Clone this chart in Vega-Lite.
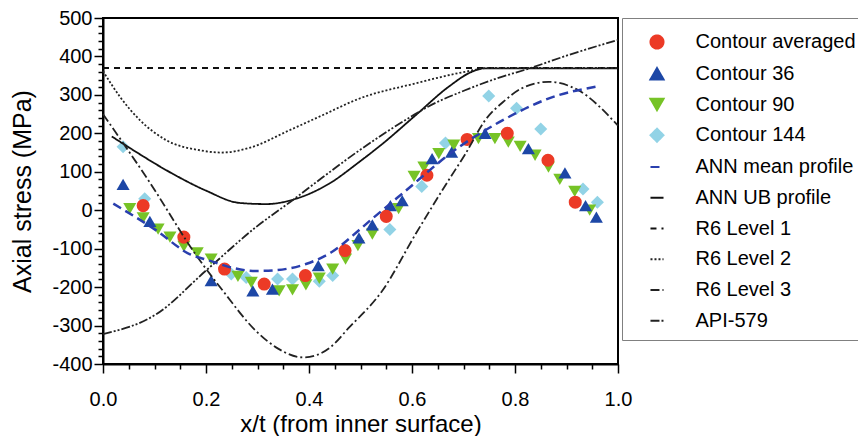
{
  "$schema": "https://vega.github.io/schema/vega-lite/v6.json",
  "width": 515,
  "height": 346,
  "autosize": {"type": "none"},
  "padding": {"left": 103, "top": 18, "right": 240, "bottom": 72},
  "background": "white",
  "config": {
    "font": "Liberation Sans",
    "view": {"stroke": "black", "strokeWidth": 2},
    "legend": {"strokeWidth": 1},
    "axis": {
      "grid": false, "domainColor": "black", "domainWidth": 2,
      "tickColor": "black", "tickWidth": 1.5,
      "labelColor": "black", "titleColor": "black",
      "labelFont": "Liberation Sans", "titleFont": "Liberation Sans",
      "labelFontSize": 20, "titleFontSize": 24, "titleFontWeight": "normal",
      "labelFlush": false, "labelOverlap": false
    }
  },
  "resolve": {"axis": {"x": "independent", "y": "independent"}},
  "data": {"values": [
    {"series": "Contour 144", "kind": "point", "x": 0.039, "y": 165},
    {"series": "Contour 144", "kind": "point", "x": 0.081, "y": 30},
    {"series": "Contour 144", "kind": "point", "x": 0.249, "y": -166},
    {"series": "Contour 144", "kind": "point", "x": 0.278, "y": -175},
    {"series": "Contour 144", "kind": "point", "x": 0.339, "y": -179},
    {"series": "Contour 144", "kind": "point", "x": 0.368, "y": -179},
    {"series": "Contour 144", "kind": "point", "x": 0.42, "y": -185},
    {"series": "Contour 144", "kind": "point", "x": 0.446, "y": -170},
    {"series": "Contour 144", "kind": "point", "x": 0.557, "y": -50},
    {"series": "Contour 144", "kind": "point", "x": 0.619, "y": 62},
    {"series": "Contour 144", "kind": "point", "x": 0.665, "y": 175},
    {"series": "Contour 144", "kind": "point", "x": 0.749, "y": 297},
    {"series": "Contour 144", "kind": "point", "x": 0.803, "y": 265},
    {"series": "Contour 144", "kind": "point", "x": 0.85, "y": 211},
    {"series": "Contour 144", "kind": "point", "x": 0.932, "y": 55},
    {"series": "Contour 144", "kind": "point", "x": 0.96, "y": 21},

    {"series": "Contour 90", "kind": "point", "x": 0.052, "y": 4},
    {"series": "Contour 90", "kind": "point", "x": 0.078, "y": -20},
    {"series": "Contour 90", "kind": "point", "x": 0.107, "y": -49},
    {"series": "Contour 90", "kind": "point", "x": 0.13, "y": -70},
    {"series": "Contour 90", "kind": "point", "x": 0.157, "y": -94},
    {"series": "Contour 90", "kind": "point", "x": 0.183, "y": -111},
    {"series": "Contour 90", "kind": "point", "x": 0.21, "y": -127},
    {"series": "Contour 90", "kind": "point", "x": 0.262, "y": -172},
    {"series": "Contour 90", "kind": "point", "x": 0.288, "y": -188},
    {"series": "Contour 90", "kind": "point", "x": 0.342, "y": -210},
    {"series": "Contour 90", "kind": "point", "x": 0.368, "y": -207},
    {"series": "Contour 90", "kind": "point", "x": 0.394, "y": -194},
    {"series": "Contour 90", "kind": "point", "x": 0.42, "y": -177},
    {"series": "Contour 90", "kind": "point", "x": 0.446, "y": -153},
    {"series": "Contour 90", "kind": "point", "x": 0.471, "y": -127},
    {"series": "Contour 90", "kind": "point", "x": 0.495, "y": -92},
    {"series": "Contour 90", "kind": "point", "x": 0.523, "y": -62},
    {"series": "Contour 90", "kind": "point", "x": 0.574, "y": 4},
    {"series": "Contour 90", "kind": "point", "x": 0.604, "y": 88},
    {"series": "Contour 90", "kind": "point", "x": 0.623, "y": 112},
    {"series": "Contour 90", "kind": "point", "x": 0.652, "y": 147},
    {"series": "Contour 90", "kind": "point", "x": 0.681, "y": 169},
    {"series": "Contour 90", "kind": "point", "x": 0.729, "y": 186},
    {"series": "Contour 90", "kind": "point", "x": 0.761, "y": 186},
    {"series": "Contour 90", "kind": "point", "x": 0.787, "y": 177},
    {"series": "Contour 90", "kind": "point", "x": 0.81, "y": 166},
    {"series": "Contour 90", "kind": "point", "x": 0.839, "y": 143},
    {"series": "Contour 90", "kind": "point", "x": 0.865, "y": 112},
    {"series": "Contour 90", "kind": "point", "x": 0.887, "y": 80},
    {"series": "Contour 90", "kind": "point", "x": 0.916, "y": 49},
    {"series": "Contour 90", "kind": "point", "x": 0.945, "y": 0},

    {"series": "Contour 36", "kind": "point", "x": 0.039, "y": 67},
    {"series": "Contour 36", "kind": "point", "x": 0.091, "y": -29},
    {"series": "Contour 36", "kind": "point", "x": 0.21, "y": -183},
    {"series": "Contour 36", "kind": "point", "x": 0.291, "y": -210},
    {"series": "Contour 36", "kind": "point", "x": 0.329, "y": -205},
    {"series": "Contour 36", "kind": "point", "x": 0.418, "y": -144},
    {"series": "Contour 36", "kind": "point", "x": 0.497, "y": -72},
    {"series": "Contour 36", "kind": "point", "x": 0.523, "y": -38},
    {"series": "Contour 36", "kind": "point", "x": 0.558, "y": 12},
    {"series": "Contour 36", "kind": "point", "x": 0.581, "y": 25},
    {"series": "Contour 36", "kind": "point", "x": 0.639, "y": 134},
    {"series": "Contour 36", "kind": "point", "x": 0.677, "y": 151},
    {"series": "Contour 36", "kind": "point", "x": 0.742, "y": 200},
    {"series": "Contour 36", "kind": "point", "x": 0.826, "y": 160},
    {"series": "Contour 36", "kind": "point", "x": 0.897, "y": 97},
    {"series": "Contour 36", "kind": "point", "x": 0.937, "y": 12},
    {"series": "Contour 36", "kind": "point", "x": 0.958, "y": -18},

    {"series": "Contour averaged", "kind": "point", "x": 0.078, "y": 12},
    {"series": "Contour averaged", "kind": "point", "x": 0.157, "y": -70},
    {"series": "Contour averaged", "kind": "point", "x": 0.236, "y": -153},
    {"series": "Contour averaged", "kind": "point", "x": 0.313, "y": -192},
    {"series": "Contour averaged", "kind": "point", "x": 0.393, "y": -170},
    {"series": "Contour averaged", "kind": "point", "x": 0.47, "y": -105},
    {"series": "Contour averaged", "kind": "point", "x": 0.55, "y": -16},
    {"series": "Contour averaged", "kind": "point", "x": 0.629, "y": 91},
    {"series": "Contour averaged", "kind": "point", "x": 0.707, "y": 184},
    {"series": "Contour averaged", "kind": "point", "x": 0.785, "y": 200},
    {"series": "Contour averaged", "kind": "point", "x": 0.864, "y": 130},
    {"series": "Contour averaged", "kind": "point", "x": 0.917, "y": 21},

    {"series": "ANN mean profile", "kind": "line", "x": 0.02, "y": 17},
    {"series": "ANN mean profile", "kind": "line", "x": 0.104, "y": -53},
    {"series": "ANN mean profile", "kind": "line", "x": 0.168, "y": -114},
    {"series": "ANN mean profile", "kind": "line", "x": 0.207, "y": -131},
    {"series": "ANN mean profile", "kind": "line", "x": 0.252, "y": -150},
    {"series": "ANN mean profile", "kind": "line", "x": 0.297, "y": -158},
    {"series": "ANN mean profile", "kind": "line", "x": 0.335, "y": -156},
    {"series": "ANN mean profile", "kind": "line", "x": 0.394, "y": -140},
    {"series": "ANN mean profile", "kind": "line", "x": 0.445, "y": -108},
    {"series": "ANN mean profile", "kind": "line", "x": 0.497, "y": -52},
    {"series": "ANN mean profile", "kind": "line", "x": 0.523, "y": -22},
    {"series": "ANN mean profile", "kind": "line", "x": 0.581, "y": 43},
    {"series": "ANN mean profile", "kind": "line", "x": 0.691, "y": 164},
    {"series": "ANN mean profile", "kind": "line", "x": 0.736, "y": 203},
    {"series": "ANN mean profile", "kind": "line", "x": 0.8, "y": 251},
    {"series": "ANN mean profile", "kind": "line", "x": 0.866, "y": 291},
    {"series": "ANN mean profile", "kind": "line", "x": 0.965, "y": 323},

    {"series": "ANN UB profile", "kind": "line", "x": 0.017, "y": 192},
    {"series": "ANN UB profile", "kind": "line", "x": 0.059, "y": 156},
    {"series": "ANN UB profile", "kind": "line", "x": 0.135, "y": 95},
    {"series": "ANN UB profile", "kind": "line", "x": 0.2, "y": 51},
    {"series": "ANN UB profile", "kind": "line", "x": 0.265, "y": 19},
    {"series": "ANN UB profile", "kind": "line", "x": 0.317, "y": 16},
    {"series": "ANN UB profile", "kind": "line", "x": 0.375, "y": 30},
    {"series": "ANN UB profile", "kind": "line", "x": 0.439, "y": 69},
    {"series": "ANN UB profile", "kind": "line", "x": 0.497, "y": 125},
    {"series": "ANN UB profile", "kind": "line", "x": 0.542, "y": 172},
    {"series": "ANN UB profile", "kind": "line", "x": 0.607, "y": 247},
    {"series": "ANN UB profile", "kind": "line", "x": 0.671, "y": 321},
    {"series": "ANN UB profile", "kind": "line", "x": 0.716, "y": 360},
    {"series": "ANN UB profile", "kind": "line", "x": 0.74, "y": 369},
    {"series": "ANN UB profile", "kind": "line", "x": 1.0, "y": 369},

    {"series": "R6 Level 1", "kind": "line", "x": 0.0, "y": 370},
    {"series": "R6 Level 1", "kind": "line", "x": 1.0, "y": 370},

    {"series": "R6 Level 2", "kind": "line", "x": 0.0, "y": 362},
    {"series": "R6 Level 2", "kind": "line", "x": 0.033, "y": 295},
    {"series": "R6 Level 2", "kind": "line", "x": 0.072, "y": 234},
    {"series": "R6 Level 2", "kind": "line", "x": 0.123, "y": 182},
    {"series": "R6 Level 2", "kind": "line", "x": 0.188, "y": 156},
    {"series": "R6 Level 2", "kind": "line", "x": 0.23, "y": 150},
    {"series": "R6 Level 2", "kind": "line", "x": 0.284, "y": 162},
    {"series": "R6 Level 2", "kind": "line", "x": 0.362, "y": 208},
    {"series": "R6 Level 2", "kind": "line", "x": 0.426, "y": 247},
    {"series": "R6 Level 2", "kind": "line", "x": 0.497, "y": 290},
    {"series": "R6 Level 2", "kind": "line", "x": 0.607, "y": 330},
    {"series": "R6 Level 2", "kind": "line", "x": 0.703, "y": 360},
    {"series": "R6 Level 2", "kind": "line", "x": 0.75, "y": 370},
    {"series": "R6 Level 2", "kind": "line", "x": 1.0, "y": 370},

    {"series": "R6 Level 3", "kind": "line", "x": 0.0, "y": 250},
    {"series": "R6 Level 3", "kind": "line", "x": 0.088, "y": 78},
    {"series": "R6 Level 3", "kind": "line", "x": 0.184, "y": -123},
    {"series": "R6 Level 3", "kind": "line", "x": 0.233, "y": -210},
    {"series": "R6 Level 3", "kind": "line", "x": 0.297, "y": -314},
    {"series": "R6 Level 3", "kind": "line", "x": 0.34, "y": -360},
    {"series": "R6 Level 3", "kind": "line", "x": 0.39, "y": -383},
    {"series": "R6 Level 3", "kind": "line", "x": 0.44, "y": -358},
    {"series": "R6 Level 3", "kind": "line", "x": 0.478, "y": -305},
    {"series": "R6 Level 3", "kind": "line", "x": 0.542, "y": -210},
    {"series": "R6 Level 3", "kind": "line", "x": 0.607, "y": -62},
    {"series": "R6 Level 3", "kind": "line", "x": 0.671, "y": 78},
    {"series": "R6 Level 3", "kind": "line", "x": 0.703, "y": 145},
    {"series": "R6 Level 3", "kind": "line", "x": 0.742, "y": 234},
    {"series": "R6 Level 3", "kind": "line", "x": 0.78, "y": 285},
    {"series": "R6 Level 3", "kind": "line", "x": 0.813, "y": 317},
    {"series": "R6 Level 3", "kind": "line", "x": 0.865, "y": 334},
    {"series": "R6 Level 3", "kind": "line", "x": 0.923, "y": 312},
    {"series": "R6 Level 3", "kind": "line", "x": 1.0, "y": 220},

    {"series": "API-579", "kind": "line", "x": 0.0, "y": -322},
    {"series": "API-579", "kind": "line", "x": 0.104, "y": -270},
    {"series": "API-579", "kind": "line", "x": 0.2, "y": -157},
    {"series": "API-579", "kind": "line", "x": 0.297, "y": -44},
    {"series": "API-579", "kind": "line", "x": 0.37, "y": 28},
    {"series": "API-579", "kind": "line", "x": 0.426, "y": 85},
    {"series": "API-579", "kind": "line", "x": 0.497, "y": 155},
    {"series": "API-579", "kind": "line", "x": 0.6, "y": 245},
    {"series": "API-579", "kind": "line", "x": 0.632, "y": 270},
    {"series": "API-579", "kind": "line", "x": 0.703, "y": 312},
    {"series": "API-579", "kind": "line", "x": 0.765, "y": 343},
    {"series": "API-579", "kind": "line", "x": 0.826, "y": 368},
    {"series": "API-579", "kind": "line", "x": 0.9, "y": 402},
    {"series": "API-579", "kind": "line", "x": 1.0, "y": 443}
  ]},
  "layer": [
    {
      "transform": [{"filter": "datum.kind === 'point'"}],
      "mark": {"type": "point", "filled": true, "opacity": 1, "size": 170, "strokeWidth": 0},
      "encoding": {
        "x": {"field": "x", "type": "quantitative", "scale": {"domain": [0, 1], "nice": false, "zero": false},
          "axis": {
            "orient": "bottom",
            "title": "x/t (from inner surface)",
            "values": [0, 0.2, 0.4, 0.6, 0.8, 1],
            "format": ".1f",
            "tickSize": 9,
            "labelPadding": 16,
            "titlePadding": 3
          }},
        "y": {"field": "y", "type": "quantitative", "scale": {"domain": [-400, 500], "nice": false, "zero": false},
          "axis": {
            "orient": "left",
            "title": "Axial stress (MPa)",
            "titleFontSize": 25,
            "values": [-400,-300,-200,-100,0,100,200,300,400,500],
            "labelExpr": "'' + datum.value",
            "tickSize": 9,
            "labelPadding": 2,
            "titlePadding": 16
          }},
        "color": {"field": "series", "type": "nominal",
          "scale": {
            "domain": ["Contour averaged","Contour 36","Contour 90","Contour 144","ANN mean profile","ANN UB profile","R6 Level 1","R6 Level 2","R6 Level 3","API-579"],
            "range": ["#ec3a26","#1d47a6","#76c326","#92d3e6","#2a3fae","#111111","#111111","#222222","#222222","#222222"]
          },
          "legend": {
            "title": null, "orient": "right", "offset": 0, "padding": 9,
            "strokeColor": "#808080", "fillColor": "white",
            "labelFont": "Liberation Sans", "labelFontSize": 20, "labelColor": "black", "labelLimit": 400,
            "symbolSize": 170, "rowPadding": 5.75,
            "symbolStrokeWidth": 2,
            "encoding": {
              "symbols": {
                "x": {"value": 26},
                "y": {"value": 15},
                "size": {"value": 170},
                "strokeWidth": {"value": 2},
                "opacity": {"value": 1}
              },
              "labels": {
                "x": {"value": 64.5},
                "y": {"value": 15}
              }
            }
          }},
        "shape": {"field": "series", "type": "nominal",
          "scale": {
            "domain": ["Contour averaged","Contour 36","Contour 90","Contour 144","ANN mean profile","ANN UB profile","R6 Level 1","R6 Level 2","R6 Level 3","API-579"],
            "range": ["circle","triangle-up","triangle-down","diamond","stroke","stroke","stroke","stroke","stroke","stroke"]
          },
          "legend": null}
      }
    },
    {
      "transform": [{"filter": "datum.kind === 'line' && datum.series !== 'ANN mean profile'"}],
      "mark": {"type": "line", "strokeWidth": 1.8, "interpolate": "monotone"},
      "encoding": {
        "x": {"field": "x", "type": "quantitative",
          "axis": {"orient": "bottom", "title": null, "labels": false, "domain": false,
            "values": [0.05,0.1,0.15,0.25,0.3,0.35,0.45,0.5,0.55,0.65,0.7,0.75,0.85,0.9,0.95],
            "tickSize": 5}},
        "y": {"field": "y", "type": "quantitative",
          "axis": {"orient": "left", "title": null, "labels": false, "domain": false,
            "values": [-380,-360,-340,-320,-280,-260,-240,-220,-180,-160,-140,-120,-80,-60,-40,-20,20,40,60,80,120,140,160,180,220,240,260,280,320,340,360,380,420,440,460,480],
            "tickSize": 5}},
        "color": {"field": "series", "type": "nominal", "legend": null},
        "strokeDash": {"field": "series", "type": "nominal",
          "scale": {
            "domain": ["Contour averaged","Contour 36","Contour 90","Contour 144","ANN mean profile","ANN UB profile","R6 Level 1","R6 Level 2","R6 Level 3","API-579"],
            "range": [[1,0],[1,0],[1,0],[1,0],[9,5],[1,0],[6,5],[2,2],[9,3,2,3],[9,2,2,2,2,2]]
          },
          "legend": null}
      }
    },
    {
      "transform": [{"filter": "datum.series === 'ANN mean profile'"}],
      "mark": {"type": "line", "strokeWidth": 2.5, "interpolate": "monotone"},
      "encoding": {
        "x": {"field": "x", "type": "quantitative", "axis": null},
        "y": {"field": "y", "type": "quantitative", "axis": null},
        "color": {"field": "series", "type": "nominal", "legend": null},
        "strokeDash": {"field": "series", "type": "nominal", "legend": null}
      }
    }
  ]
}
